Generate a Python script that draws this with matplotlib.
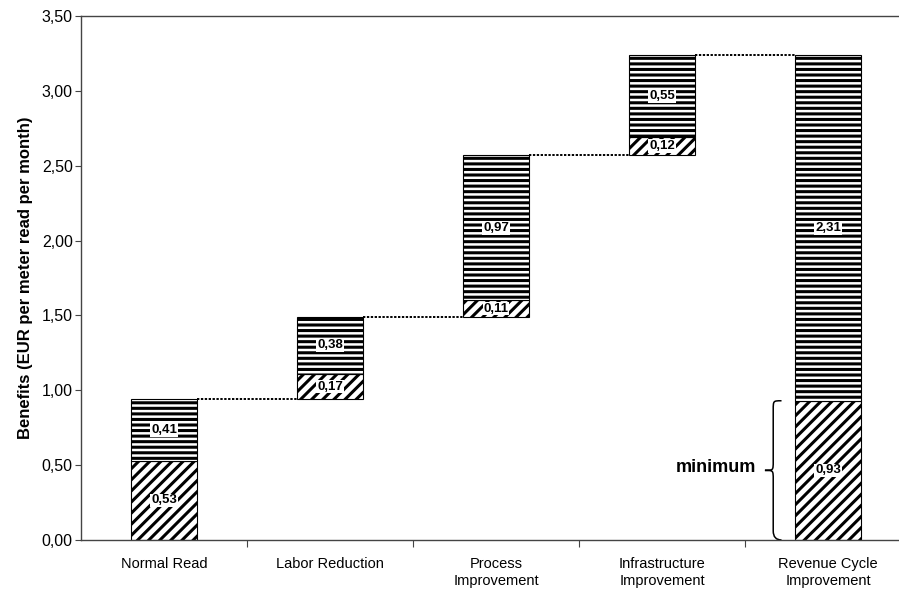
import matplotlib
matplotlib.use("Agg")
import matplotlib.pyplot as plt
from matplotlib import font_manager
from matplotlib.path import Path
from matplotlib.patches import PathPatch

plt.rcParams["font.family"] = ["Liberation Sans", "DejaVu Sans"]
plt.rcParams["hatch.linewidth"] = 2.2

installed = {f.name for f in font_manager.fontManager.ttflist}
narrow = "Liberation Sans Narrow" if "Liberation Sans Narrow" in installed else "Liberation Sans"

categories = ["Normal Read", "Labor Reduction", "Process\nImprovement",
              "Infrastructure\nImprovement", "Revenue Cycle\nImprovement"]
lower_vals = [0.53, 0.17, 0.11, 0.12, 0.93]
upper_vals = [0.41, 0.38, 0.97, 0.55, 2.31]
bases = [0.0, 0.94, 1.49, 2.57, 0.0]
yticks = [0.0, 0.5, 1.0, 1.5, 2.0, 2.5, 3.0, 3.5]

fig = plt.figure(figsize=(8.99, 5.96), dpi=100)
ax = fig.add_axes([81 / 899, 56 / 596, 1 - 81 / 899, 524 / 596])

xs = list(range(len(categories)))
w = 0.40
for x, b, lo, up in zip(xs, bases, lower_vals, upper_vals):
    ax.bar(x, lo, bottom=b, width=w, color="white", edgecolor="black",
           hatch="///", linewidth=0.8)
    ax.bar(x, up, bottom=b + lo, width=w, color="white", edgecolor="black",
           hatch="---", linewidth=0.8)
    for val, yc in ((lo, b + lo / 2), (up, b + lo + up / 2)):
        ax.text(x, yc, f"{val:.2f}".replace(".", ","), ha="center", va="center",
                fontsize=9.5, fontweight="bold", family=[narrow, "DejaVu Sans"],
                bbox=dict(facecolor="white", edgecolor="none", pad=0.6))

# dotted connectors between consecutive bar tops
tops = [b + lo + up for b, lo, up in zip(bases, lower_vals, upper_vals)]
for i in range(len(xs) - 1):
    ax.plot([xs[i] + w / 2, xs[i + 1] - w / 2], [tops[i], tops[i]],
            color="black", linestyle=(0, (1.2, 0.8)), linewidth=1.4)

# curly brace for the "minimum" part
y0, y1 = 0.0, lower_vals[-1]
ym = (y0 + y1) / 2
xr, xb, xt = 3.72, 3.67, 3.62
verts = [(xr, y0), (xb, y0), (xb, y0 + 0.06),
         (xb, ym - 0.06),
         (xb, ym), (xb, ym), (xt, ym),
         (xb, ym), (xb, ym), (xb, ym + 0.06),
         (xb, y1 - 0.06),
         (xb, y1), (xb, y1), (xr, y1)]
codes = [Path.MOVETO, Path.CURVE3, Path.CURVE3,
         Path.LINETO,
         Path.CURVE4, Path.CURVE4, Path.CURVE4,
         Path.CURVE4, Path.CURVE4, Path.CURVE4,
         Path.LINETO,
         Path.CURVE4, Path.CURVE4, Path.CURVE4]
ax.add_patch(PathPatch(Path(verts, codes), facecolor="none", edgecolor="black",
                       linewidth=1.1))
ax.text(3.57, ym + 0.02, "minimum", ha="right", va="center", fontsize=13,
        fontweight="bold")

ax.set_xlim(-0.5, -0.5 + 818 / 166)
ax.set_ylim(0, 3.5)
ax.set_yticks(yticks)
ax.set_yticklabels([f"{v:.2f}".replace(".", ",") for v in yticks], fontsize=11.5)
ax.set_xticks([i + 0.5 for i in range(len(categories) - 1)])
ax.set_xticklabels([])
ax.set_xticks(xs, minor=True)
ax.set_xticklabels(categories, minor=True, fontsize=10.5,
                   family=[narrow, "DejaVu Sans"], linespacing=1.3)
ax.tick_params(axis="x", which="minor", length=0, pad=12)
ax.tick_params(axis="x", which="major", length=5, direction="out", color="#444")
ax.tick_params(axis="y", length=4, direction="out", color="#444", pad=2)
ax.spines["right"].set_visible(False)
for s in ("left", "top", "bottom"):
    ax.spines[s].set_color("#444")
    ax.spines[s].set_linewidth(1.0)
ax.set_ylabel("Benefits (EUR per meter read per month)", fontsize=12,
              fontweight="bold", labelpad=6)

fig.savefig("out.png", dpi=100)
